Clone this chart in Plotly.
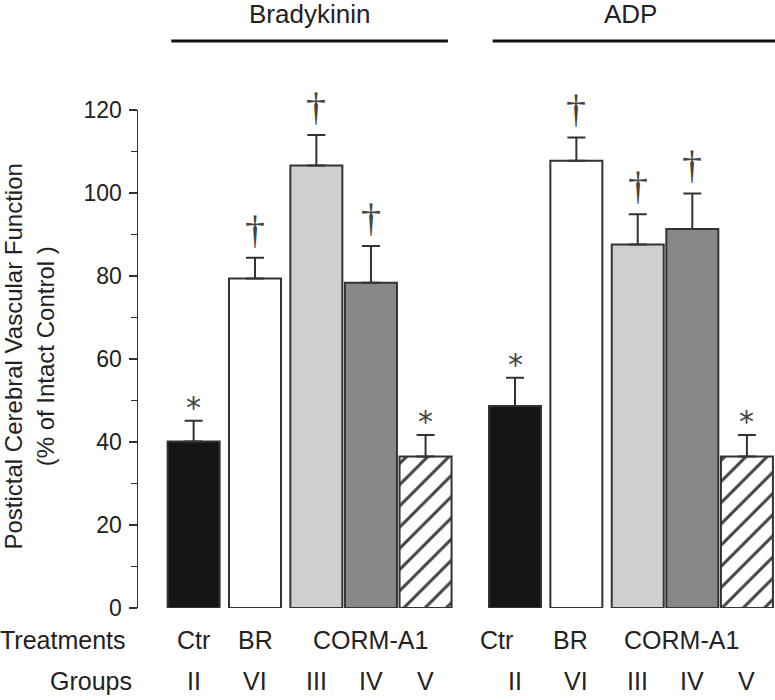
import plotly.graph_objects as go

# ---------------- data ----------------
groups = ["Bradykinin", "ADP"]
treatments = ["Ctr", "BR", "CORM-A1"]
group_ids = ["II", "VI", "III", "IV", "V"]
brady_mean = [40.1, 79.4, 106.6, 78.4, 36.5]
brady_err = [5.0, 5.0, 7.4, 8.8, 5.2]
adp_mean = [48.7, 107.8, 87.6, 91.3, 36.5]
adp_err = [6.8, 5.6, 7.3, 8.6, 5.2]
brady_sig = ["*", "†", "†", "†", "*"]
adp_sig = ["*", "†", "†", "†", "*"]
y_ticks = [0, 20, 40, 60, 80, 100, 120]

# ---------------- layout helpers ----------------
BAR_W = 1.0
gaps = [0.18, 0.18, 0.05, 0.05]     # gap between adjacent bars within a group
first_center = 1.07
group_gap = 0.72

def centers_from(start):
    c = [start]
    for g in gaps:
        c.append(c[-1] + BAR_W + g)
    return c

brady_x = centers_from(first_center)
adp_x = centers_from(brady_x[-1] + BAR_W + group_gap)

fills = ["#151515", "#ffffff", "#cfcfcf", "#888888", "#ffffff"]
hatched = [False, False, False, False, True]
edge = "#333333"
txt = "#222222"
FONT = "Liberation Sans, Arial, sans-serif"

fig = go.Figure()
all_x = brady_x + adp_x
all_m = brady_mean + adp_mean
all_e = brady_err + adp_err
all_f = fills + fills
all_h = hatched + hatched

for want_hatch in (False, True):
    idx = [i for i, h in enumerate(all_h) if h == want_hatch]
    xs = [all_x[i] for i in idx]
    ms = [all_m[i] for i in idx]
    es = [all_e[i] for i in idx]
    cs = [all_f[i] for i in idx]
    marker = dict(color=cs, line=dict(color=edge, width=2))
    if want_hatch:
        marker["pattern"] = dict(shape="/", fgcolor="black", bgcolor="white",
                                 fgopacity=1, size=15, solidity=0.2)
    fig.add_trace(go.Bar(
        x=xs, y=ms, width=BAR_W, marker=marker,
        error_y=dict(type="data", array=es, arrayminus=[0]*len(es), symmetric=False,
                     color=edge, thickness=2, width=9),
        showlegend=False, hoverinfo="skip",
    ))

ann = []
# significance marks
for xs, ms, es, sig in [(brady_x, brady_mean, brady_err, brady_sig),
                        (adp_x, adp_mean, adp_err, adp_sig)]:
    for x, m, e, s in zip(xs, ms, es, sig):
        if s == "*":
            ann.append(dict(x=x, y=m + e, xref="x", yref="y", text="*", showarrow=False,
                            yanchor="middle", yshift=13,
                            font=dict(family="DejaVu Sans", size=30, color="#444")))
        else:
            ann.append(dict(x=x, y=m + e, xref="x", yref="y", text="†", showarrow=False,
                            yanchor="bottom", yshift=4,
                            font=dict(family="Liberation Serif", size=40, color="#444")))

# treatments row
treat_nudge = [[0, 0, 0], [-0.35, -0.12, -0.2]]
for gi, xs in enumerate([brady_x, adp_x]):
    pos = [xs[0], xs[1], sum(xs[2:]) / 3]
    for t, p, n in zip(treatments, pos, treat_nudge[gi]):
        ann.append(dict(x=p + n, y=0, xref="x", yref="paper", text=t, showarrow=False,
                        yanchor="middle", yshift=-32, font=dict(family=FONT, size=25, color=txt)))
    for gid, p in zip(group_ids, xs):
        ann.append(dict(x=p, y=0, xref="x", yref="paper", text=gid, showarrow=False,
                        yanchor="middle", yshift=-73, font=dict(family=FONT, size=25, color=txt)))

ann.append(dict(x=0, y=0, xref="paper", yref="paper", text="Treatments", showarrow=False,
                xanchor="right", yanchor="middle", xshift=-10, yshift=-32,
                font=dict(family=FONT, size=25, color=txt)))
ann.append(dict(x=0, y=0, xref="paper", yref="paper", text="Groups", showarrow=False,
                xanchor="right", yanchor="middle", xshift=-4, yshift=-73,
                font=dict(family=FONT, size=25, color=txt)))

# group headers and lines
shapes = []
for name, xs in zip(groups, [brady_x, adp_x]):
    left = xs[0] - BAR_W / 2
    right = xs[-1] + BAR_W / 2
    ann.append(dict(x=(left + right) / 2, y=1, xref="x", yref="paper", text=name,
                    showarrow=False, yanchor="middle", yshift=96,
                    font=dict(family=FONT, size=26, color=txt)))
    shapes.append(dict(type="line", xref="x", yref="paper", ysizemode="pixel", yanchor=1,
                       x0=left + 0.07, x1=right - 0.07 + (0.25 if name == "ADP" else 0),
                       y0=69, y1=69, line=dict(color="#111111", width=3)))

# y-axis title
ann.append(dict(x=0, y=0.505, xref="paper", yref="paper",
                text="Postictal Cerebral Vascular Function<br>(% of Intact Control )",
                showarrow=False, textangle=-90, xanchor="center", yanchor="middle",
                xshift=-109, font=dict(family=FONT, size=24, color=txt)))

fig.update_layout(
    width=775, height=700,
    margin=dict(l=138, r=0, t=110, b=92),
    plot_bgcolor="white", paper_bgcolor="white",
    bargap=0, barmode="overlay", annotations=ann, shapes=shapes,
    xaxis=dict(range=[0, 637 / 52], visible=False, fixedrange=True),
    yaxis=dict(range=[0, 120], tickvals=y_ticks, ticks="outside", ticklen=8, tickwidth=1.5,
               tickcolor="#333", showline=True, linecolor="#333", linewidth=1.5,
               showgrid=False, zeroline=False, ticklabelstandoff=2, fixedrange=True,
               tickfont=dict(family=FONT, size=23, color=txt),
               minor=dict(dtick=10, ticks="outside", ticklen=6, tickcolor="#333", tickwidth=1.5)),
)

fig.write_html("out.html", config={"displayModeBar": False, "staticPlot": True},
               post_script="document.body.style.margin='0';document.body.style.overflow='hidden';")
